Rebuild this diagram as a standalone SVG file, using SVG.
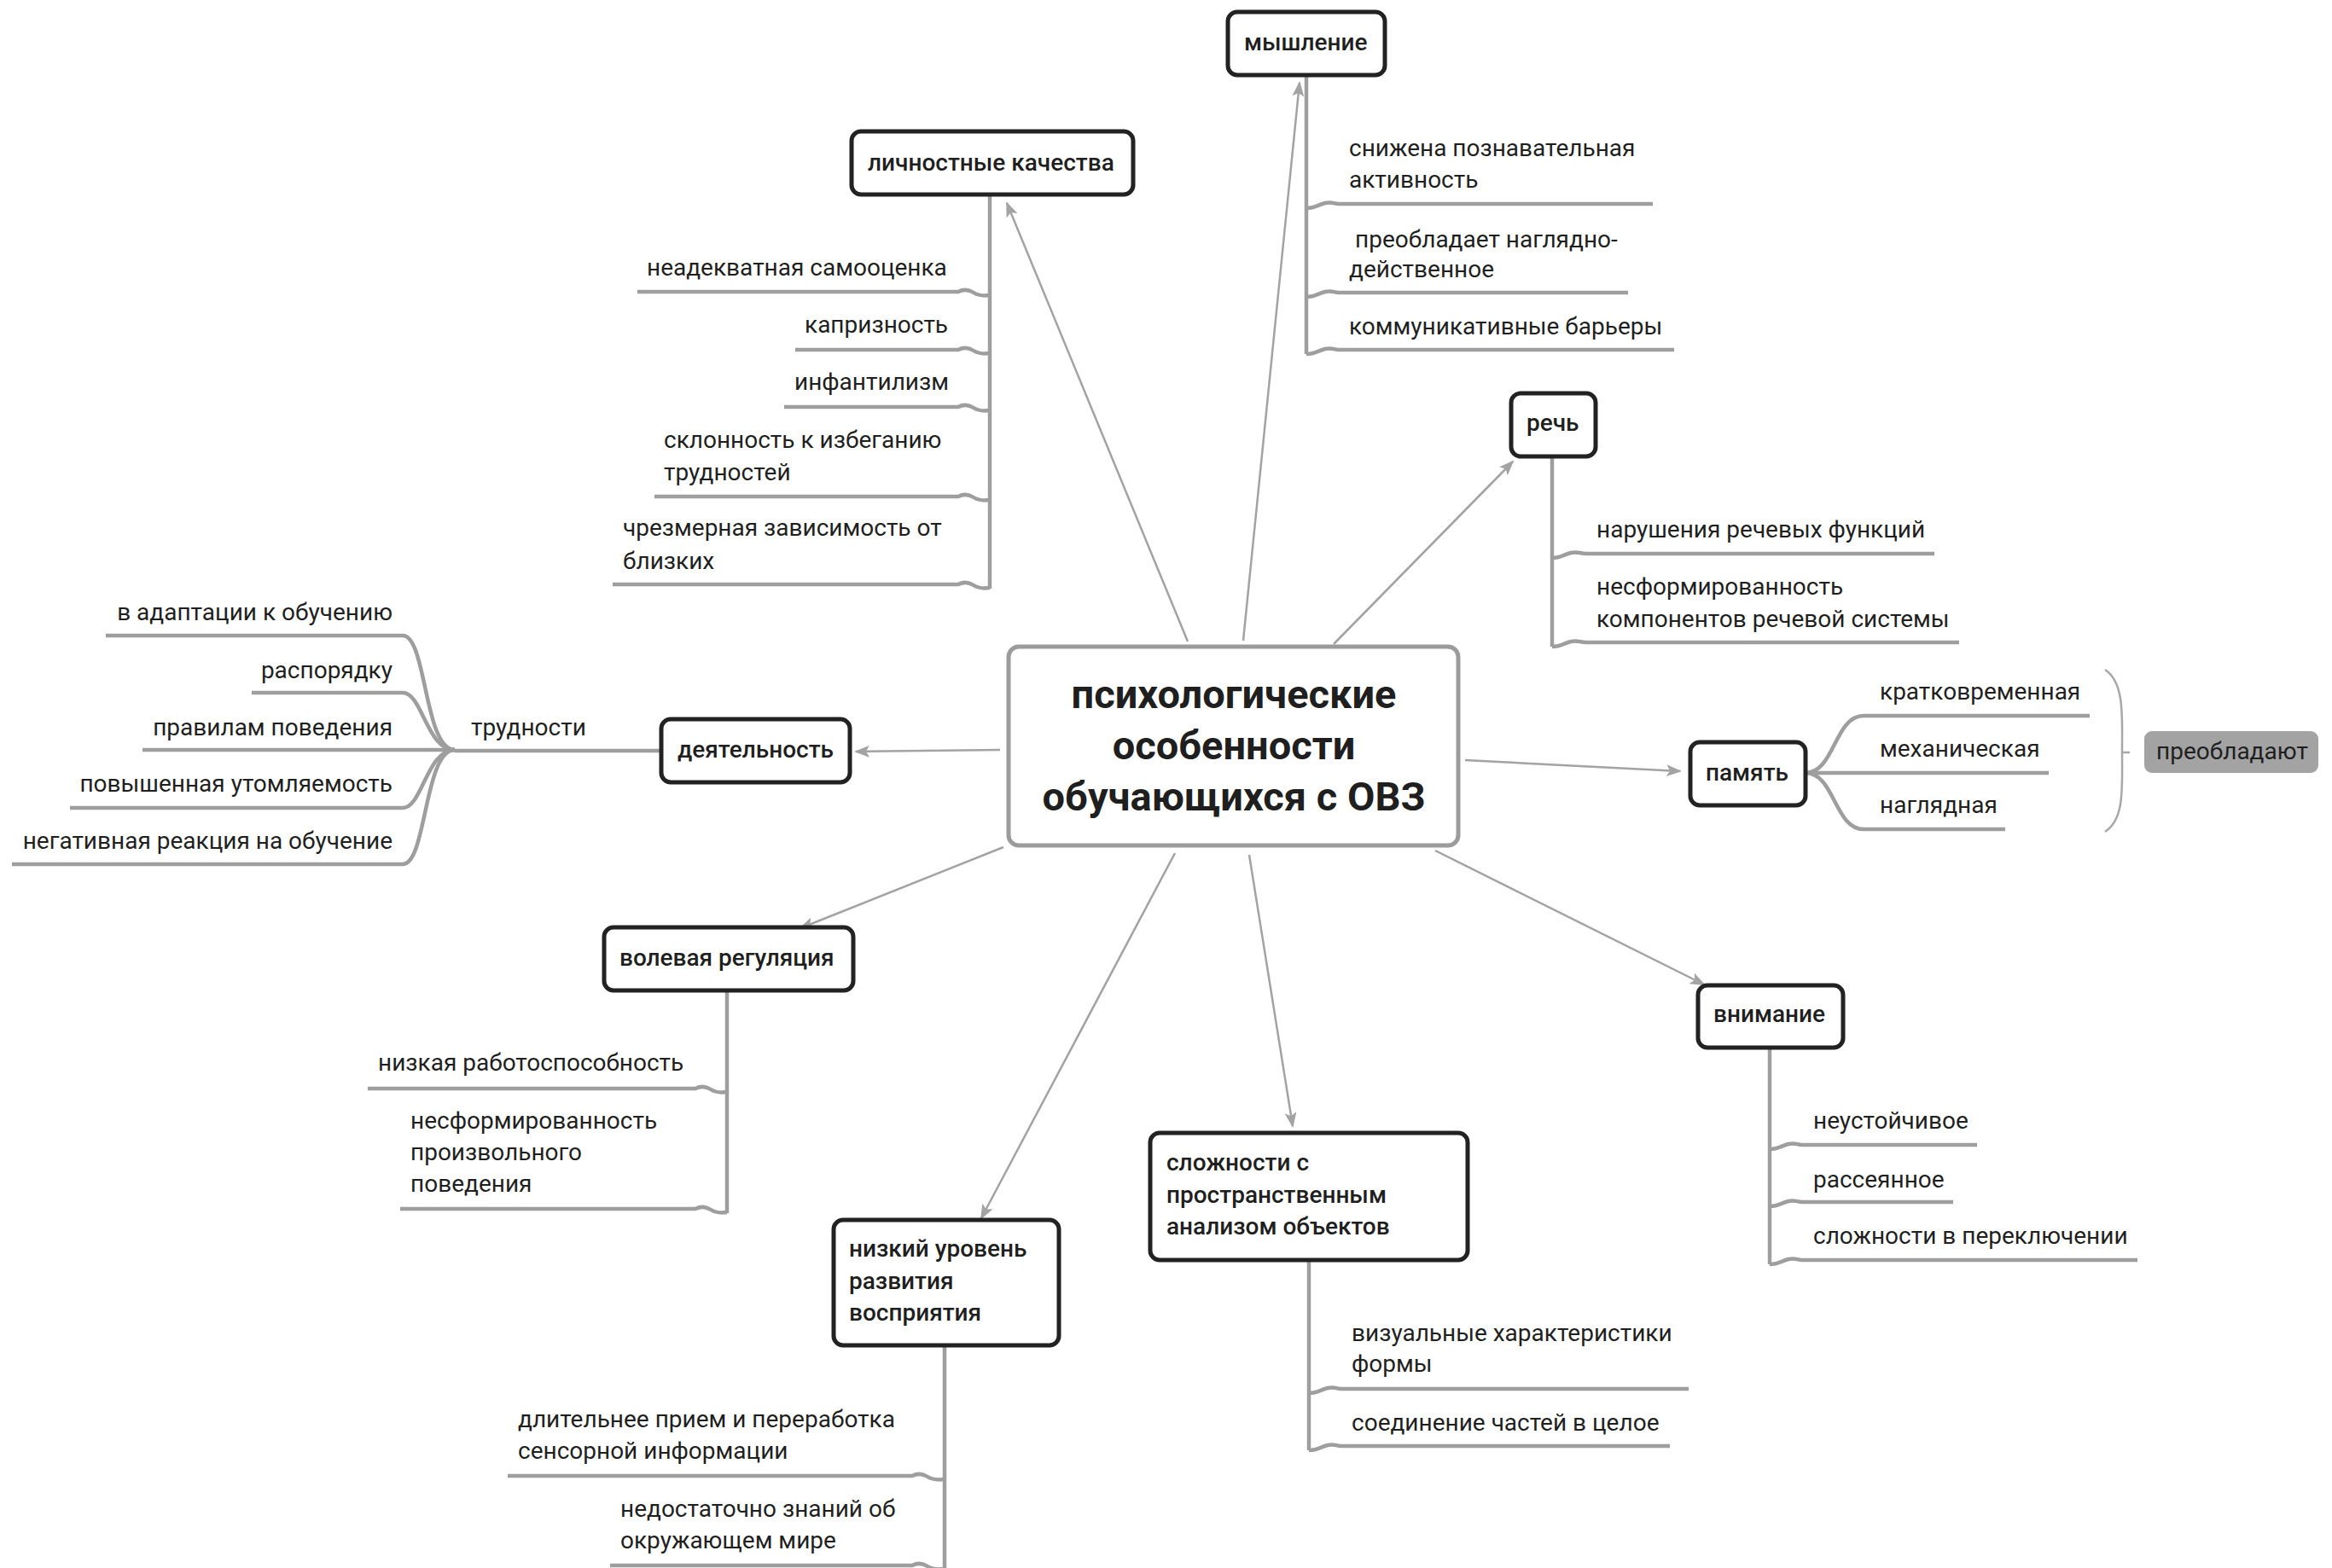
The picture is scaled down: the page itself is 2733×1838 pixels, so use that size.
<svg xmlns="http://www.w3.org/2000/svg" width="2733" height="1838" viewBox="0 0 2733 1838">
<defs>
<style>
.t{font-family:Roboto,"Noto Sans","Liberation Sans",sans-serif;font-size:28px;fill:#1f1f1f}
.h{font-weight:500}
.c{font-weight:700;font-size:47px;text-anchor:middle}
.box{fill:#fff;stroke:#222;stroke-width:5}
.br{fill:none;stroke:#9e9e9e;stroke-width:4.5}
.ar{fill:none;stroke:#a3a3a3;stroke-width:2.5;marker-end:url(#tip)}
.brace{fill:none;stroke:#a8a8a8;stroke-width:2.5}
</style>
<marker id="tip" markerUnits="userSpaceOnUse" markerWidth="18" markerHeight="14" refX="16" refY="7" orient="auto">
<path d="M0,0 L18,7 L0,14 L4,7 z" fill="#a3a3a3"/>
</marker>
</defs>
<rect width="2733" height="1838" fill="#fff"/>

<!-- arrows from the central topic -->
<g id="connectors">
<line class="ar" x1="1392" y1="752" x2="1180" y2="238"/>
<line class="ar" x1="1457" y1="751" x2="1523" y2="97"/>
<line class="ar" x1="1563" y1="755" x2="1773" y2="541"/>
<line class="ar" x1="1172" y1="879" x2="1003" y2="881"/>
<line class="ar" x1="1717" y1="891" x2="1969" y2="904"/>
<line class="ar" x1="1176" y1="993" x2="938" y2="1088"/>
<line class="ar" x1="1377" y1="1000" x2="1150" y2="1428"/>
<line class="ar" x1="1464" y1="1002" x2="1515" y2="1320"/>
<line class="ar" x1="1682" y1="997" x2="1997" y2="1154"/>
</g>

<g id="central">
<rect x="1182" y="758" width="527" height="233" rx="12" fill="#fff" stroke="#9b9b9b" stroke-width="5"/>
<text class="t c" x="1446" y="830">психологические</text>
<text class="t c" x="1446" y="890">особенности</text>
<text class="t c" x="1446" y="950">обучающихся с ОВЗ</text>
</g>

<!-- личностные качества -->
<g id="n-lichnostnye">
<path class="br" d="M1160,228 V690"/>
<path class="br" d="M747,342 H1123 c6,-3 12,-3 18,1 s12,4 19,3"/>
<path class="br" d="M932,410 H1123 c6,-3 12,-3 18,1 s12,4 19,3"/>
<path class="br" d="M919,477 H1123 c6,-3 12,-3 18,1 s12,4 19,3"/>
<path class="br" d="M767,582 H1123 c6,-3 12,-3 18,1 s12,4 19,3"/>
<path class="br" d="M718,685 H1123 c6,-3 12,-3 18,1 s12,4 19,3"/>
<rect class="box" x="998" y="154" width="330" height="74" rx="11"/>
<text class="t h" x="1017" y="200">личностные качества</text>
<text class="t" x="758" y="323">неадекватная самооценка</text>
<text class="t" x="943" y="390">капризность</text>
<text class="t" x="931" y="457">инфантилизм</text>
<text class="t" x="778" y="525">склонность к избеганию</text>
<text class="t" x="778" y="563">трудностей</text>
<text class="t" x="730" y="628">чрезмерная зависимость от</text>
<text class="t" x="730" y="667">близких</text>
</g>

<!-- мышление -->
<g id="n-myshlenie">
<path class="br" d="M1531,88 V415"/>
<path class="br" d="M1531,244 c10,0 14,-4 22,-6 s10,1 16,1 H1937"/>
<path class="br" d="M1531,348 c10,0 14,-4 22,-6 s10,1 16,1 H1908"/>
<path class="br" d="M1531,415 c10,0 14,-4 22,-6 s10,1 16,1 H1962"/>
<rect class="box" x="1439" y="14" width="184" height="74" rx="11"/>
<text class="t h" x="1458" y="59">мышление</text>
<text class="t" x="1581" y="183">снижена познавательная</text>
<text class="t" x="1581" y="220">активность</text>
<text class="t" x="1588" y="290">преобладает наглядно-</text>
<text class="t" x="1581" y="325">действенное</text>
<text class="t" x="1581" y="392">коммуникативные барьеры</text>
</g>

<!-- речь -->
<g id="n-rech">
<path class="br" d="M1819,535 V758"/>
<path class="br" d="M1819,654 c10,0 14,-4 22,-6 s10,1 18,1 H2267"/>
<path class="br" d="M1819,758 c10,0 14,-4 22,-6 s10,1 18,1 H2296"/>
<rect class="box" x="1771" y="461" width="99" height="74" rx="11"/>
<text class="t h" x="1789" y="505">речь</text>
<text class="t" x="1871" y="630">нарушения речевых функций</text>
<text class="t" x="1871" y="697">несформированность</text>
<text class="t" x="1871" y="735">компонентов речевой системы</text>
</g>

<!-- деятельность -->
<g id="n-deyatelnost">
<path class="br" d="M775,880 H533"/>
<path class="br" d="M124,745 H472 C500,745 497,879 533,879"/>
<path class="br" d="M295,812 H472 C495,812 500,879 533,879"/>
<path class="br" d="M167,879 H533"/>
<path class="br" d="M82,947 H472 C495,947 500,879 533,879"/>
<path class="br" d="M14,1013 H472 C500,1013 497,879 533,879"/>
<rect class="box" x="775" y="843" width="221" height="74" rx="11"/>
<text class="t h" x="794" y="888">деятельность</text>
<text class="t" x="552" y="862">трудности</text>
<g text-anchor="end">
<text class="t" x="460" y="727">в адаптации к обучению</text>
<text class="t" x="460" y="795">распорядку</text>
<text class="t" x="460" y="862">правилам поведения</text>
<text class="t" x="460" y="928">повышенная утомляемость</text>
<text class="t" x="460" y="995">негативная реакция на обучение</text>
</g>
</g>

<!-- память -->
<g id="n-pamyat">
<path class="br" d="M2116,906 C2150,906 2150,839 2184,839 H2449"/>
<path class="br" d="M2116,906 H2401"/>
<path class="br" d="M2116,906 C2150,906 2150,972 2184,972 H2350"/>
<rect class="box" x="1981" y="870" width="135" height="74" rx="11"/>
<text class="t h" x="1999" y="915">память</text>
<text class="t" x="2203" y="820">кратковременная</text>
<text class="t" x="2203" y="887">механическая</text>
<text class="t" x="2203" y="953">наглядная</text>
<path class="brace" d="M2467,785 C2490,800 2487,840 2487,880 C2487,925 2490,960 2467,975 M2487,882 H2496"/>
<rect x="2513" y="857" width="204" height="49" rx="9" fill="#a3a3a3"/>
<text class="t" x="2527" y="890">преобладают</text>
</g>

<!-- волевая регуляция -->
<g id="n-volevaya">
<path class="br" d="M852,1161 V1422"/>
<path class="br" d="M431,1276 H815 c6,-3 12,-3 18,1 s12,4 19,3"/>
<path class="br" d="M469,1417 H815 c6,-3 12,-3 18,1 s12,4 19,3"/>
<rect class="box" x="708" y="1087" width="292" height="74" rx="11"/>
<text class="t h" x="726" y="1132">волевая регуляция</text>
<text class="t" x="443" y="1255">низкая работоспособность</text>
<text class="t" x="481" y="1323">несформированность</text>
<text class="t" x="481" y="1360">произвольного</text>
<text class="t" x="481" y="1397">поведения</text>
</g>

<!-- низкий уровень развития восприятия -->
<g id="n-vospriyatie">
<path class="br" d="M1107,1577 V1838"/>
<path class="br" d="M595,1730 H1069 c6,-3 12,-3 18,1 s12,4 20,3"/>
<path class="br" d="M715,1835 H1069 c6,-3 12,-3 18,1 s12,4 20,3"/>
<rect class="box" x="977" y="1430" width="264" height="147" rx="11"/>
<text class="t h" x="995" y="1473">низкий уровень</text>
<text class="t h" x="995" y="1511">развития</text>
<text class="t h" x="995" y="1548">восприятия</text>
<text class="t" x="607" y="1673">длительнее прием и переработка</text>
<text class="t" x="607" y="1710">сенсорной информации</text>
<text class="t" x="727" y="1778">недостаточно знаний об</text>
<text class="t" x="727" y="1815">окружающем мире</text>
</g>

<!-- сложности с пространственным анализом объектов -->
<g id="n-slozhnosti">
<path class="br" d="M1534,1477 V1700"/>
<path class="br" d="M1534,1633 c10,0 14,-4 22,-6 s10,1 15,1 H1979"/>
<path class="br" d="M1534,1700 c10,0 14,-4 22,-6 s10,1 15,1 H1957"/>
<rect class="box" x="1348" y="1328" width="372" height="149" rx="11"/>
<text class="t h" x="1367" y="1372">сложности с</text>
<text class="t h" x="1367" y="1410">пространственным</text>
<text class="t h" x="1367" y="1447">анализом объектов</text>
<text class="t" x="1584" y="1572">визуальные характеристики</text>
<text class="t" x="1584" y="1608">формы</text>
<text class="t" x="1584" y="1677">соединение частей в целое</text>
</g>

<!-- внимание -->
<g id="n-vnimanie">
<path class="br" d="M2074,1228 V1482"/>
<path class="br" d="M2074,1347 c10,0 14,-4 22,-6 s10,1 16,1 H2317"/>
<path class="br" d="M2074,1414 c10,0 14,-4 22,-6 s10,1 16,1 H2289"/>
<path class="br" d="M2074,1482 c10,0 14,-4 22,-6 s10,1 16,1 H2505"/>
<rect class="box" x="1990" y="1155" width="170" height="73" rx="11"/>
<text class="t h" x="2008" y="1198">внимание</text>
<text class="t" x="2125" y="1323">неустойчивое</text>
<text class="t" x="2125" y="1392">рассеянное</text>
<text class="t" x="2125" y="1458">сложности в переключении</text>
</g>
</svg>
